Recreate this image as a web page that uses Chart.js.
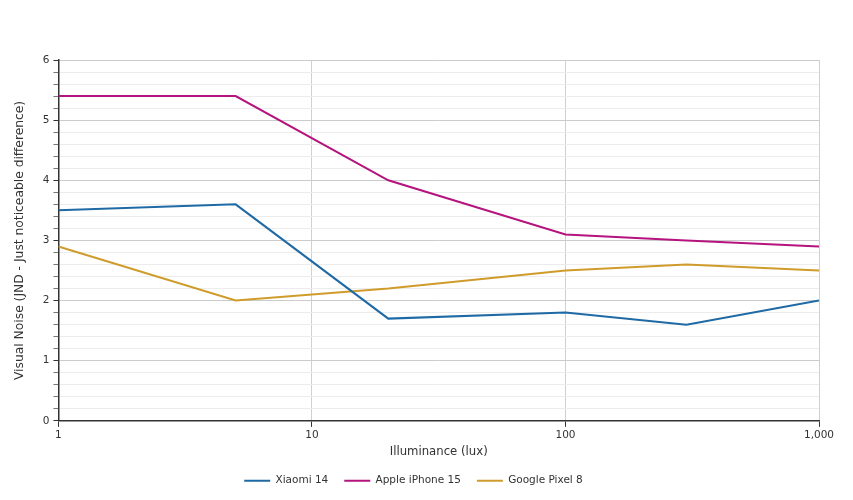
<!DOCTYPE html>
<html>
<head>
<meta charset="utf-8">
<script src="https://cdn.jsdelivr.net/npm/chart.js@4/dist/chart.umd.min.js"></script>
<style>
html,body{margin:0;padding:0;background:#fff;}
#wrap{width:853px;height:500px;position:relative;}
</style>
</head>
<body>
<div id="wrap"><canvas id="c" width="853" height="500"></canvas></div>
<script>
const illuminance = [1, 5, 20, 100, 300, 1000];
const xiaomi14 = [3.5, 3.6, 1.7, 1.8, 1.6, 2.0];
const iphone15 = [5.4, 5.4, 4.0, 3.1, 3.0, 2.9];
const pixel8 = [2.9, 2.0, 2.2, 2.5, 2.6, 2.5];
const xTicks = [1, 10, 100, 1000];
const seriesNames = ['Xiaomi 14', 'Apple iPhone 15', 'Google Pixel 8'];
const seriesColors = ['#1f6aa5', '#b5137e', '#cf9c2c'];

const toPts = arr => illuminance.map((x, i) => ({x: x, y: arr[i]}));
const FONT = '"DejaVu Sans", sans-serif';
const isMajor = v => Math.abs(v - Math.round(v)) < 1e-6;

new Chart(document.getElementById('c'), {
  type: 'line',
  data: {
    datasets: [xiaomi14, iphone15, pixel8].map((d, i) => ({
      label: seriesNames[i],
      data: toPts(d),
      borderColor: seriesColors[i],
      backgroundColor: seriesColors[i],
      borderWidth: 2,
      pointRadius: 0,
      pointHoverRadius: 0,
      tension: 0,
      fill: false
    }))
  },
  options: {
    responsive: false,
    animation: false,
    layout: {padding: {top: 60, right: 34, left: 8, bottom: 4}},
    plugins: {
      legend: {
        position: 'bottom',
        labels: {
          usePointStyle: true,
          pointStyle: 'line',
          pointStyleWidth: 26,
          boxHeight: 2,
          color: '#333',
          font: {family: FONT, size: 10.5},
          padding: 16
        }
      },
      tooltip: {enabled: false}
    },
    scales: {
      x: {
        type: 'logarithmic',
        min: 1,
        max: 1000,
        afterBuildTicks: ax => { ax.ticks = xTicks.map(v => ({value: v})); },
        ticks: {
          color: '#333',
          font: {family: FONT, size: 10.5},
          maxRotation: 0,
          padding: 2,
          callback: v => Number(v).toLocaleString('en-US')
        },
        grid: {
          color: ctx => ctx.tick && ctx.tick.value === 1 ? 'rgba(0,0,0,0)' : '#d0d0d0',
          tickColor: '#333',
          tickLength: 6,
          lineWidth: 1
        },
        border: {color: '#333', width: 1.5},
        title: {
          display: true,
          text: 'Illuminance (lux)',
          color: '#333',
          font: {family: FONT, size: 11.7},
          padding: {top: 1, bottom: 1}
        }
      },
      y: {
        min: 0,
        max: 6,
        ticks: {
          stepSize: 0.2,
          autoSkip: false,
          color: '#333',
          font: {family: FONT, size: 10.5},
          padding: 4,
          callback: v => isMajor(v) ? String(Math.round(v)) : ''
        },
        grid: {
          color: ctx => isMajor(ctx.tick ? ctx.tick.value : 0) ? '#cccccc' : '#ececec',
          tickColor: ctx => isMajor(ctx.tick ? ctx.tick.value : 0) ? '#333' : '#777',
          tickLength: 5,
          lineWidth: 1
        },
        border: {color: '#333', width: 1.5},
        title: {
          display: true,
          text: 'Visual Noise (JND - Just noticeable difference)',
          color: '#333',
          font: {family: FONT, size: 12.3},
          padding: {top: 4, bottom: 12}
        }
      }
    }
  }
});
</script>
</body>
</html>
